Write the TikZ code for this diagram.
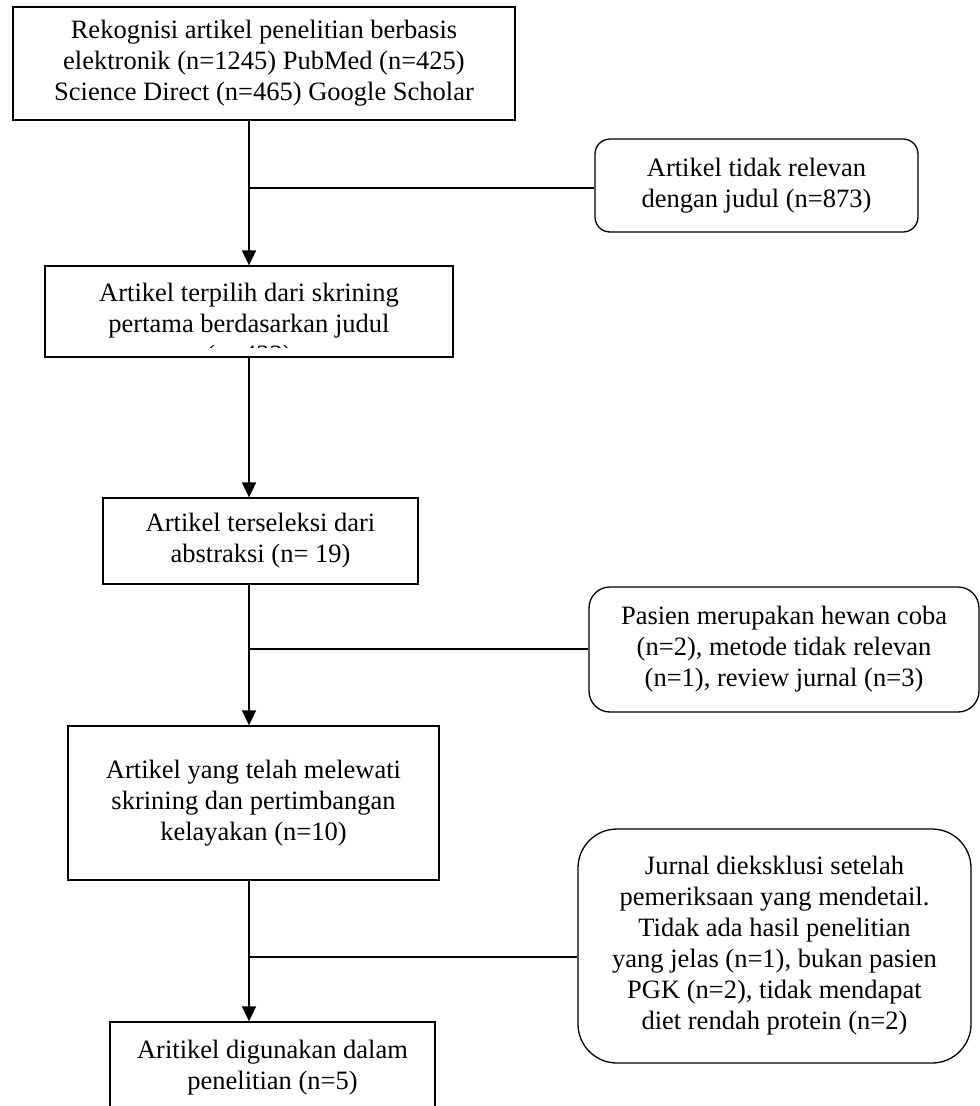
\documentclass[tikz,border=0pt]{standalone}
\usepackage{fontspec}
\setmainfont{Liberation Serif}
\usetikzlibrary{arrows.meta}
\begin{document}
\begin{tikzpicture}[x=1pt,y=-1pt,
  txt/.style={align=center,inner sep=0pt,font=\fontsize{26.5}{31}\selectfont},
  box/.style={txt,draw,line width=1.3pt,minimum width=#1},
  sidebox/.style={txt,draw,line width=1.3pt},
  conn/.style={line width=1.8pt},
  arr/.style={conn,-{Triangle[length=15pt,width=14pt]}}]
\clip (0,0) rectangle (980,1106);
\fill[white] (0,0) rectangle (980,1106);
\coordinate (spine) at (249,0);
% main boxes
\node[box=502pt,minimum height=113pt] (box1) at (264,63.5)
  {Rekognisi artikel penelitian berbasis\\elektronik (n=1245) PubMed (n=425)\\Science Direct (n=465) Google Scholar};
\node[box=408pt,minimum height=91pt] (box2) at (249,311.5) {};
\begin{scope}
  \clip (45,266) rectangle (453,347);
  \node[txt,anchor=north] (box2txt) at (249,283)
    {Artikel terpilih dari skrining\\pertama berdasarkan judul\\(n=433)};
\end{scope}
\node[box=315pt,minimum height=86pt] (box3) at (260.5,541)
  {Artikel terseleksi dari\\abstraksi (n= 19)};
\node[box=371pt,minimum height=154pt] (box4) at (253.5,803)
  {Artikel yang telah melewati\\skrining dan pertimbangan\\kelayakan (n=10)};
\node[box=325pt,minimum height=92pt] (box5) at (272.5,1068)
  {Aritikel digunakan dalam\\penelitian (n=5)};
% side boxes
\node[sidebox,minimum width=323pt,minimum height=93pt,rounded corners=15pt] (side1) at (756.5,185.5)
  {Artikel tidak relevan\\dengan judul (n=873)};
\node[sidebox,minimum width=390pt,minimum height=125pt,rounded corners=21pt] (side2) at (784,649.5)
  {Pasien merupakan hewan coba\\(n=2), metode tidak relevan\\(n=1), review jurnal (n=3)};
\node[sidebox,minimum width=393pt,minimum height=234pt,rounded corners=39pt] (side3) at (774.5,946)
  {Jurnal dieksklusi setelah\\pemeriksaan yang mendetail.\\Tidak ada hasil penelitian\\yang jelas (n=1), bukan pasien\\PGK (n=2), tidak mendapat\\diet rendah protein (n=2)};
% junctions
\coordinate (j1) at (249,188);
\coordinate (j2) at (249,649);
\coordinate (j3) at (249,957);
% connectors
\draw[arr] (box1.south -| spine) -- (box2.north -| spine);
\draw[arr] (box2.south -| spine) -- (box3.north -| spine);
\draw[arr] (box3.south -| spine) -- (box4.north -| spine);
\draw[arr] (box4.south -| spine) -- (box5.north -| spine);
\draw[conn] (j1) -- (j1 -| side1.west);
\draw[conn] (j2) -- (j2 -| side2.west);
\draw[conn] (j3) -- (j3 -| side3.west);
\end{tikzpicture}
\end{document}
